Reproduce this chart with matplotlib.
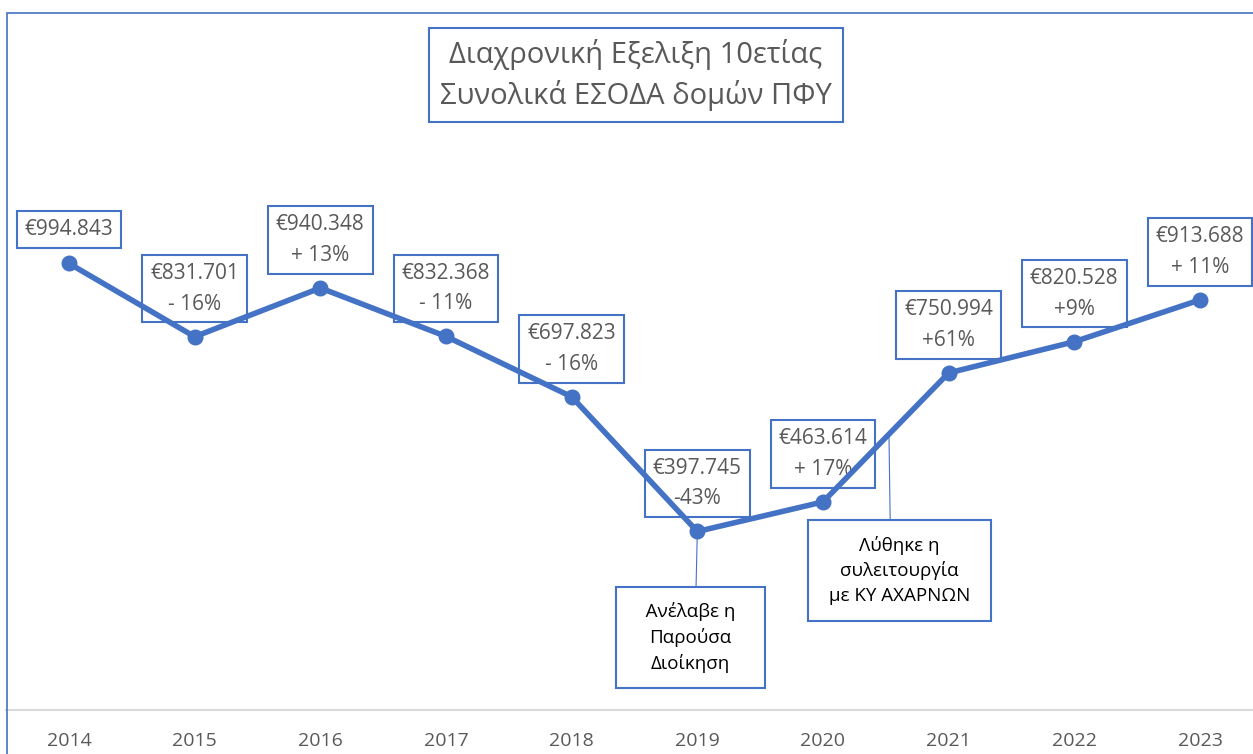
import matplotlib
matplotlib.use('Agg')
import matplotlib.pyplot as plt
import numpy as np
from matplotlib.patches import Rectangle

# Data
years = ['2014', '2015', '2016', '2017', '2018', '2019', '2020', '2021', '2022', '2023']
revenue = [994843, 831701, 940348, 832368, 697823, 397745, 463614, 750994, 820528, 913688]
value_labels = ['€994.843', '€831.701', '€940.348', '€832.368', '€697.823',
                '€397.745', '€463.614', '€750.994', '€820.528', '€913.688']
change_labels = ['', '- 16%', '+ 13%', '- 11%', '- 16%', '-43%', '+ 17%', '+61%', '+9%', '+ 11%']
title_lines = ['Διαχρονική Εξελιξη 10ετίας', 'Συνολικά ΕΣΟΔΑ δομών ΠΦΥ']
note_2019 = '   Ανέλαβε η   \nΠαρούσα\nΔιοίκηση'
note_2020 = 'Λύθηκε η\nσυλειτουργία\n με ΚΥ ΑΧΑΡΝΩΝ '

blue = '#4472C4'
grey_text = '#595959'

plt.rcParams['font.family'] = ['Open Sans', 'DejaVu Sans']

W, H = 1253, 754
fig = plt.figure(figsize=(W / 100, H / 100), dpi=100)

# outer chart border (runs off the right/bottom edge of the image)
fig.patches.append(Rectangle((7 / W, -0.05), 1.1, 1 - 13 / H + 0.05,
                             transform=fig.transFigure, fill=False,
                             edgecolor=blue, linewidth=1.2))

ax = fig.add_axes([6.2 / W, 44 / H, 1256.6 / W, 538.6 / H])
x = np.arange(len(years))
ax.plot(x, revenue, color=blue, linewidth=4.0, marker='o', markersize=10.5,
        solid_capstyle='round', zorder=5)

ax.set_xlim(-0.5, len(years) - 0.5)
ax.set_ylim(0, 1200000)
ax.set_xticks(x)
ax.set_xticklabels(years, fontsize=14, color=grey_text)
ax.tick_params(axis='x', length=0, pad=16)
ax.set_yticks([])
for s in ['top', 'left', 'right']:
    ax.spines[s].set_visible(False)
ax.spines['bottom'].set_color('#D9D9D9')
ax.spines['bottom'].set_linewidth(1.5)
ax.patch.set_alpha(0)

# data labels (sit under the line)
for i in range(len(years)):
    if change_labels[i]:
        txt = value_labels[i] + '\n' + change_labels[i]
        dy = 48
    else:
        txt = value_labels[i]
        dy = 34
    ax.annotate(txt, xy=(x[i], revenue[i]), xytext=(0, dy),
                textcoords='offset pixels', ha='center', va='center',
                fontsize=15, color=grey_text, linespacing=1.6,
                bbox=dict(boxstyle='square,pad=0.38', facecolor='white',
                          edgecolor=blue, linewidth=1.5), zorder=3)

# callouts
ax.annotate(note_2019, xy=(x[5], revenue[5]), xytext=(-7, -106),
            textcoords='offset pixels', ha='center', va='center',
            fontsize=13.5, color='black', linespacing=1.45,
            bbox=dict(boxstyle='square,pad=0.8', facecolor='white',
                      edgecolor=blue, linewidth=1.5),
            arrowprops=dict(arrowstyle='-', color=blue, linewidth=0.8,
                            relpos=(0.545, 1.0), shrinkA=0, shrinkB=0),
            zorder=2)

xa = 6.525
ya = np.interp(xa, x, revenue)
ax.annotate(note_2020, xy=(xa, ya), xytext=(10.5, -136),
            textcoords='offset pixels', ha='center', va='center',
            fontsize=13.5, color='black', linespacing=1.45,
            bbox=dict(boxstyle='square,pad=0.85', facecolor='white',
                      edgecolor=blue, linewidth=1.5),
            arrowprops=dict(arrowstyle='-', color=blue, linewidth=0.8,
                            relpos=(0.44, 1.0), shrinkA=0, shrinkB=0),
            zorder=2)

# title box
fig.text(636 / W, 1 - 75 / H, '\n'.join(title_lines), ha='center', va='center',
         fontsize=21, color=grey_text, linespacing=1.4,
         bbox=dict(boxstyle='square,pad=0.38', facecolor='white',
                   edgecolor=blue, linewidth=1.5))

fig.savefig('out.png', dpi=100)
